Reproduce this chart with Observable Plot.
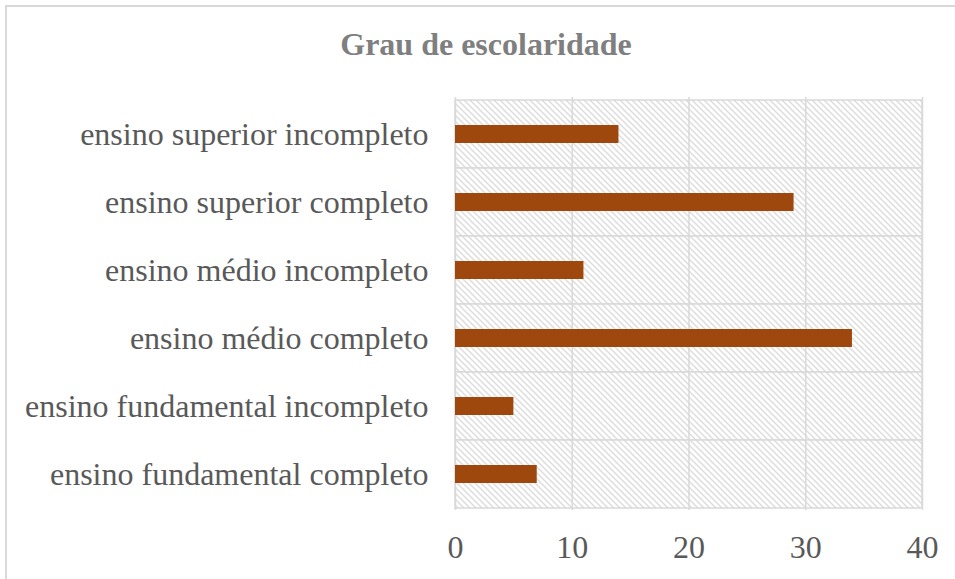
<!DOCTYPE html>
<html>
<head>
<meta charset="utf-8">
<script src="https://cdn.jsdelivr.net/npm/d3@7"></script>
<script src="https://cdn.jsdelivr.net/npm/@observablehq/plot@0.6"></script>
<style>
  html, body { margin: 0; padding: 0; background: #fff; overflow: hidden; width: 955px; height: 579px; }
  #frame { position: absolute; left: 5px; top: 5px; width: 1000px; height: 1000px; border: 2px solid #d9d9d9; box-sizing: border-box; }
  #wrap { position: absolute; left: 0; top: 0; width: 955px; }
  #title { height: 80px; box-sizing: border-box; padding-top: 28px; line-height: 32px; text-align: center; padding-left: 17px;
           font-family: "Liberation Serif", "Times New Roman", serif; font-weight: bold; font-size: 32px; color: #7f7f7f; }
  #chart svg { display: block; }
</style>
</head>
<body>
<div id="frame"></div>
<div id="wrap">
  <div id="title">Grau de escolaridade</div>
  <div id="chart"></div>
</div>
<script>
const categories = [
  "ensino superior incompleto",
  "ensino superior completo",
  "ensino médio incompleto",
  "ensino médio completo",
  "ensino fundamental incompleto",
  "ensino fundamental completo"
];
const values = [14, 29, 11, 34, 5, 7];
const xTicks = [0, 10, 20, 30, 40];

const data = categories.map((c, i) => ({category: c, value: values[i]}));
const xMax = d3.max(xTicks);

const defs = () => {
  const d = d3.create("svg:defs");
  const p = d.append("pattern")
    .attr("id", "hatch")
    .attr("patternUnits", "userSpaceOnUse")
    .attr("width", 6).attr("height", 6);
  p.append("rect").attr("width", 6).attr("height", 6).attr("fill", "#ffffff");
  p.append("path")
    .attr("d", "M0,0L6,6M-1,5L1,7M5,-1L7,1")
    .attr("stroke", "#dcdcdc")
    .attr("stroke-width", 1.4);
  return d.node();
};

const chart = Plot.plot({
  width: 955,
  height: 499,
  marginTop: 17,
  marginBottom: 69,
  marginLeft: 455,
  marginRight: 33,
  style: {fontFamily: '"Liberation Serif", "Times New Roman", serif', fontSize: "32px", color: "#595959", background: "transparent"},
  x: {domain: [0, xMax], ticks: xTicks, label: null},
  y: {domain: categories, padding: 0, label: null},
  marks: [
    defs,
    Plot.barX(categories, {x1: 0, x2: xMax, y: d => d, fill: "url(#hatch)", stroke: "#d9d9d9", strokeWidth: 1.5}),
    Plot.gridX(xTicks, {stroke: "#d9d9d9", strokeOpacity: 1, strokeWidth: 1.5}),
    Plot.barX(data, {x: "value", y: "category", fill: "#9e480e", insetTop: 25, insetBottom: 25}),
    Plot.axisX({ticks: xTicks, tickSize: 0, tickPadding: 25, fontSize: 32, fill: "#595959", label: null}),
    Plot.axisY({tickSize: 0, tickPadding: 27, fontSize: 32, fill: "#595959", label: null})
  ]
});
document.getElementById("chart").appendChild(chart);
</script>
</body>
</html>
